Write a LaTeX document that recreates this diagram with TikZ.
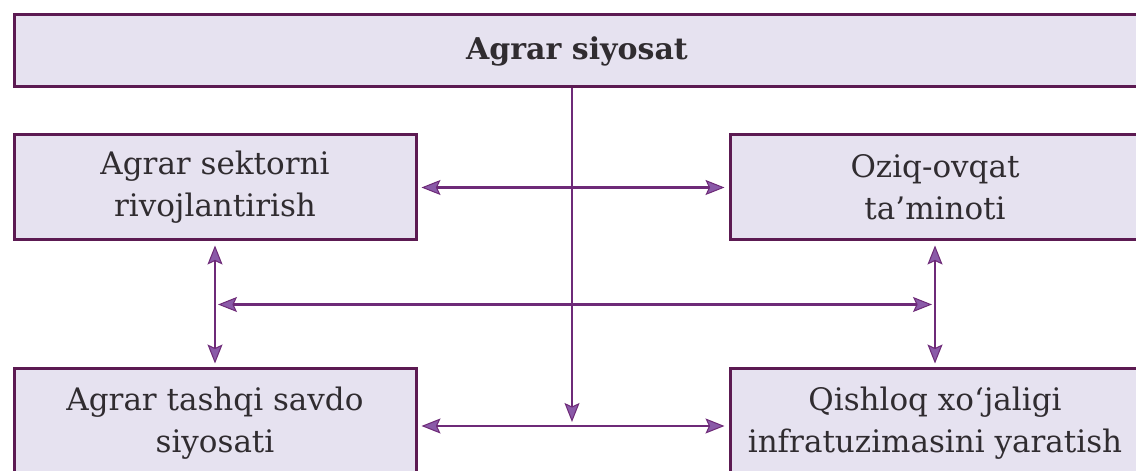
\documentclass[tikz,border=0pt]{standalone}
\usepackage{fontspec}
\setmainfont{DejaVu Serif}
\usetikzlibrary{arrows.meta,calc}
\definecolor{boxfill}{HTML}{E6E2F0}
\definecolor{boxline}{HTML}{5C1A52}
\definecolor{arrline}{HTML}{6E2A78}
\definecolor{arrfill}{HTML}{8A5AA8}
\definecolor{txt}{HTML}{302C30}
\tikzset{
  box/.style={draw=boxline, line width=3pt, fill=boxfill, inner sep=0pt, text=txt,
    align=center, font=\fontsize{31}{42}\selectfont},
  conn/.style={draw=arrline, line width=2.5pt},
  tip/.tip={Stealth[length=19pt,width=15pt,inset=3.5pt,fill=arrfill,line width=1pt]},
}
\begin{document}
\begin{tikzpicture}[x=1pt,y=1pt]
\useasboundingbox (0,0) rectangle (1136,471);
\clip (0,0) rectangle (1136,471);
\fill[white] (0,0) rectangle (1136,471);
% boxes
\node[box, minimum width=1126pt, minimum height=72pt] (top) at (577,420)
  {\fontsize{30}{34}\selectfont\bfseries Agrar siyosat};
\node[box, minimum width=402pt, minimum height=105pt] (ml) at (215,283.5)
  {Agrar sektorni\\rivojlantirish};
\node[box, minimum width=410pt, minimum height=105pt] (mr) at (935,283.5)
  {Oziq-ovqat\\ta’minoti};
\node[box, minimum width=402pt, minimum height=109pt] (bl) at (215,47.5)
  {Agrar tashqi savdo\\siyosati};
\node[box, minimum width=410pt, minimum height=109pt] (br) at (935,47.5)
  {Qishloq xo‘jaligi\\infratuzimasini yaratish};
% coordinates
\coordinate (ct) at (572,49);
\coordinate (vl) at ($(ml.south)!0.5!(bl.north)$);
\coordinate (vr) at ($(mr.south)!0.5!(br.north)$);
% connectors
\draw[conn, -{tip}] (top.south -| ct) -- (ct);
\draw[conn, {tip}-{tip}, shorten <=4pt, shorten >=4pt] (ml.east) -- (mr.west);
\draw[conn, {tip}-{tip}, shorten <=4pt, shorten >=4pt] (ml.south) -- (bl.north);
\draw[conn, {tip}-{tip}, shorten <=4pt, shorten >=4pt] (mr.south) -- (br.north);
\draw[conn, {tip}-{tip}, shorten <=3pt, shorten >=3pt] (vl) -- (vr);
\draw[conn, {tip}-{tip}, shorten <=4pt, shorten >=4pt] (bl.east |- 0,45) -- (br.west |- 0,45);
\end{tikzpicture}
\end{document}
